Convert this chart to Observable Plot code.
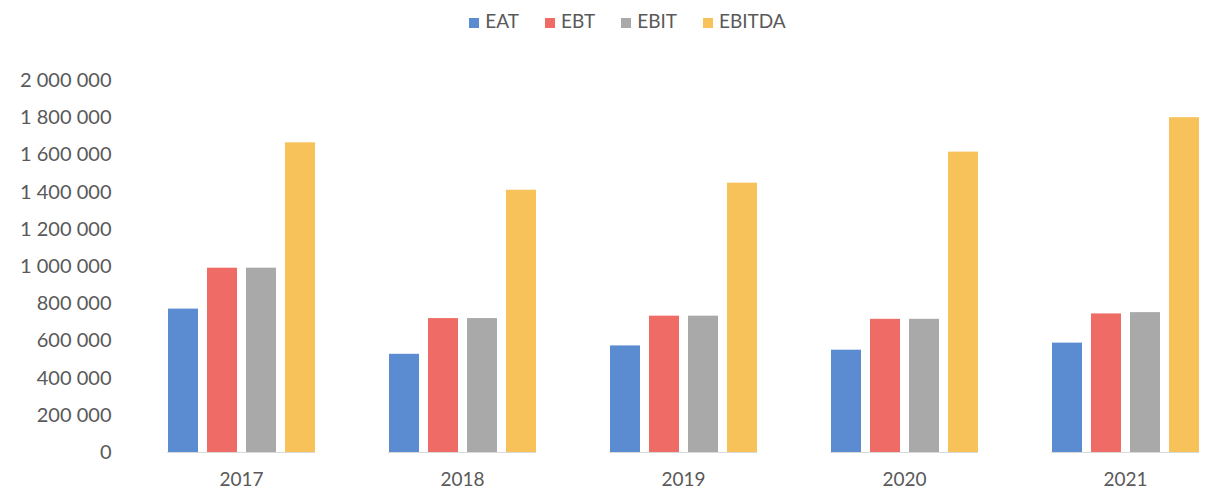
<!DOCTYPE html>
<html>
<head>
<meta charset="utf-8">
<script src="https://cdn.jsdelivr.net/npm/d3@7"></script>
<script src="https://cdn.jsdelivr.net/npm/@observablehq/plot@0.6"></script>
<style>
  html, body { margin: 0; padding: 0; background: #fff; overflow: hidden; }
  #legend { height: 40px; display: flex; justify-content: center; align-items: center; gap: 26px;
    font-family: Lato, "Open Sans", sans-serif; font-size: 19px; color: #595959; padding-left: 40px; box-sizing: border-box; }
  #legend span.sw { display: inline-block; width: 10px; height: 10px; margin-right: 6px; }
  #chart svg { overflow: visible; }
</style>
</head>
<body>
<div id="legend"></div>
<div id="chart"></div>
<script>
const years = ["2017", "2018", "2019", "2020", "2021"];
const metrics = ["EAT", "EBT", "EBIT", "EBITDA"];
const EAT    = [771000, 528000, 573000, 550000, 588000];
const EBT    = [991000, 720000, 733000, 716000, 745000];
const EBIT   = [991000, 720000, 733000, 716000, 752000];
const EBITDA = [1665000, 1410000, 1448000, 1615000, 1800000];
const colors = ["#5b8bd0", "#ef6b66", "#a9a9a9", "#f7c25a"];
const yTicks = [0, 200000, 400000, 600000, 800000, 1000000, 1200000, 1400000, 1600000, 1800000, 2000000];

const series = {EAT, EBT, EBIT, EBITDA};
const data = [];
years.forEach((y, i) => metrics.forEach(m => data.push({year: y, metric: m, value: series[m][i]})));

const fmt = d => d3.format(",")(d).replace(/,/g, " ");

const legend = document.getElementById("legend");
metrics.forEach((m, i) => {
  const item = document.createElement("span");
  item.innerHTML = `<span class="sw" style="background:${colors[i]}"></span>${m}`;
  legend.appendChild(item);
});

const chart = Plot.plot({
  width: 1215,
  height: 451,
  marginTop: 40,
  marginBottom: 39,
  marginLeft: 131,
  marginRight: 0,
  style: {fontFamily: "Lato, 'Open Sans', sans-serif", fontSize: "19px", color: "#595959", background: "#fff"},
  fx: {domain: years, range: [130.5, 1235.5], paddingInner: 0.33, paddingOuter: 0.165, label: null, tickSize: 0, tickPadding: 20},
  x: {domain: metrics, axis: null, paddingInner: 0.237, paddingOuter: 0},
  y: {domain: [0, 2000000], ticks: yTicks, tickFormat: fmt, label: null, tickSize: 0, tickPadding: 56},
  color: {domain: metrics, range: colors},
  marks: [
    Plot.ruleY([0], {stroke: "#d9d9d9"}),
    Plot.barY(data, {fx: "year", x: "metric", y: "value", fill: "metric"}),
    Plot.axisY({ticks: yTicks, tickFormat: fmt, tickSize: 0, tickPadding: 56, label: null, fill: "#595959", fontSize: 20})
  ]
});
document.getElementById("chart").appendChild(chart);
</script>
</body>
</html>
